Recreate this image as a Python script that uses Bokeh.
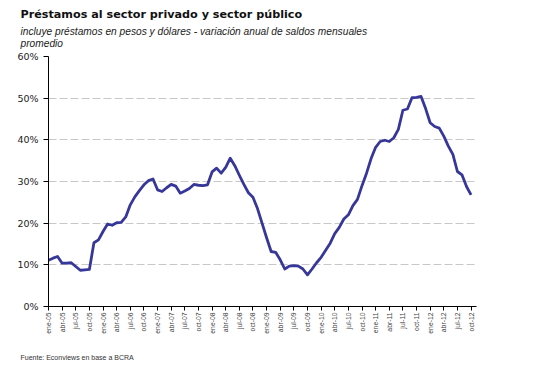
import math
from bokeh.plotting import figure
from bokeh.models import FixedTicker, Title, ColumnDataSource
from bokeh.embed import file_html
from bokeh.resources import INLINE

title = "Préstamos al sector privado y sector público"
subtitle = "incluye préstamos en pesos y dólares - variación anual de saldos mensuales\npromedio"
source_note = "Fuente: Econviews en base a BCRA"

# monthly values, ene-05 .. oct-12 (% annual change)
values = [
    11.1, 11.6, 12.0, 10.4, 10.4, 10.5, 9.6, 8.7, 8.8, 8.9, 15.3, 16.0,
    18.0, 19.8, 19.5, 20.1, 20.2, 21.5, 24.4, 26.3, 27.8, 29.2, 30.2, 30.6,
    28.0, 27.6, 28.5, 29.3, 28.9, 27.2, 27.7, 28.3, 29.3, 29.1, 29.0, 29.2,
    32.3, 33.2, 32.0, 33.4, 35.6, 33.8, 31.5, 29.3, 27.3, 26.2, 23.5, 20.0,
    16.5, 13.2, 13.0, 11.2, 9.0, 9.7, 9.8, 9.7, 9.0, 7.6, 9.0, 10.5,
    11.8, 13.5, 15.2, 17.5, 19.0, 21.0, 22.0, 24.2, 25.7, 29.0, 32.0, 35.5,
    38.2, 39.6, 39.9, 39.6, 40.5, 42.5, 47.1, 47.4, 50.1, 50.2, 50.4, 47.5,
    44.1, 43.2, 42.8, 40.9, 38.5, 36.5, 32.4, 31.6, 28.8, 26.8,
]

tick_labels = [
    "ene-05", "abr-05", "jul-05", "oct-05",
    "ene-06", "abr-06", "jul-06", "oct-06",
    "ene-07", "abr-07", "jul-07", "oct-07",
    "ene-08", "abr-08", "jul-08", "oct-08",
    "ene-09", "abr-09", "jul-09", "oct-09",
    "ene-10", "abr-10", "jul-10", "oct-10",
    "ene-11", "abr-11", "jul-11", "oct-11",
    "ene-12", "abr-12", "jul-12", "oct-12",
]
y_ticks = [0, 10, 20, 30, 40, 50, 60]

months = list(range(len(values)))
tick_pos = [i * 3 for i in range(len(tick_labels))]

src = ColumnDataSource(dict(m=months, v=values))

p = figure(width=533, height=376, output_backend="svg", toolbar_location=None,
           x_range=(0, 94.2), y_range=(0, 60),
           min_border_left=48, min_border_right=57, min_border_top=56, min_border_bottom=70)
p.outline_line_color = None
p.background_fill_color = "white"
p.border_fill_color = "white"

p.line("m", "v", source=src, line_color="#37379a", line_width=2.8, line_join="round")

p.xgrid.visible = False
p.ygrid.ticker = FixedTicker(ticks=y_ticks)
p.ygrid.grid_line_color = "#c8c8c8"
p.ygrid.grid_line_dash = "8 3"
p.ygrid.grid_line_width = 1

xa = p.xaxis[0]
xa.ticker = FixedTicker(ticks=tick_pos)
xa.major_label_overrides = {pos: lab for pos, lab in zip(tick_pos, tick_labels)}
xa.major_label_orientation = math.pi / 2
xa.major_label_text_font = "Liberation Sans"
xa.major_label_text_font_size = "6.8px"
xa.major_label_text_color = "#444444"
xa.major_label_standoff = 2
xa.major_tick_out = 4
xa.major_tick_in = 0
xa.minor_tick_line_color = None
xa.axis_line_color = "black"
xa.major_tick_line_color = "black"

ya = p.yaxis[0]
ya.ticker = FixedTicker(ticks=y_ticks)
ya.major_label_overrides = {t: f"{t}%" for t in y_ticks}
ya.major_label_text_font = "DejaVu Sans"
ya.major_label_text_font_size = "9.5px"
ya.major_label_text_color = "#222222"
ya.major_label_standoff = 5
ya.major_tick_out = 5
ya.major_tick_in = 0
ya.minor_tick_line_color = None
ya.axis_line_color = "black"
ya.major_tick_line_color = "black"

# titles: stacked outward from the frame
p.add_layout(Title(text=subtitle, align="left", offset=-28, standoff=11, vertical_align="top",
                   text_font="Liberation Sans", text_font_style="italic",
                   text_font_size="10.2px", text_color="#222222", text_line_height=1.08), "above")
p.add_layout(Title(text=title, align="left", offset=-28, standoff=0,
                   text_font="DejaVu Sans", text_font_style="bold",
                   text_font_size="11.2px", text_color="#111111"), "above")
p.add_layout(Title(text=source_note, align="left", offset=-28, standoff=31, vertical_align="bottom",
                   text_font="Liberation Sans", text_font_style="normal",
                   text_font_size="7px", text_color="#333333"), "below")

open("out.html", "w").write(file_html(p, INLINE))
